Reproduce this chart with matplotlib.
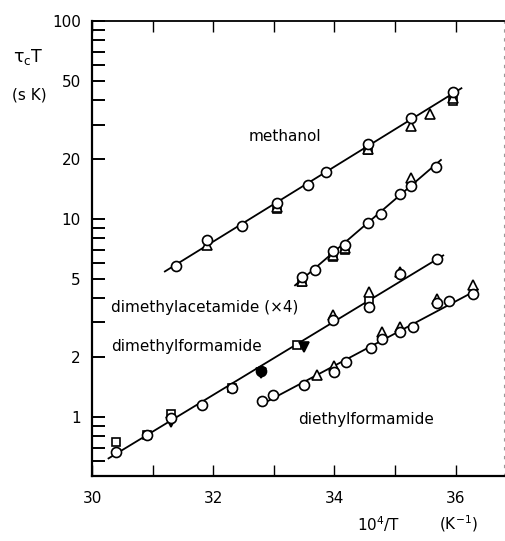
import matplotlib
matplotlib.use("Agg")
import matplotlib.pyplot as plt
from matplotlib.ticker import FixedLocator, NullFormatter, FixedFormatter

plt.rcParams['font.family'] = ['DejaVu Sans']
plt.rcParams['mathtext.fontset'] = 'dejavusans'

# ---- data (x = 10^4/T in K^-1, y = tau_c*T in s K) ----
# methanol
meoh_circ_x = [31.38, 31.89, 32.47, 33.06, 33.57, 33.87, 34.55, 35.27, 35.96]
meoh_circ_y = [5.79, 7.83, 9.25, 12.0, 14.85, 17.2, 23.9, 32.3, 43.6]
meoh_tri_x = [31.89, 33.06, 34.55, 35.27, 35.58, 35.96]
meoh_tri_y = [7.4, 11.5, 22.6, 29.5, 33.9, 40.6]
meoh_sq_x = [33.06, 34.55, 35.96]
meoh_sq_y = [11.2, 22.2, 39.6]
meoh_fit_x = [31.19, 36.11]
meoh_fit_y = [5.40, 46.0]

# dimethylacetamide (x4)
dma_circ_x = [33.47, 33.68, 33.98, 34.18, 34.56, 34.77, 35.08, 35.27, 35.67]
dma_circ_y = [5.08, 5.53, 6.89, 7.39, 9.55, 10.6, 13.4, 14.7, 18.2]
dma_tri_x = [33.47, 33.98, 34.18, 35.27]
dma_tri_y = [4.85, 6.6, 7.1, 16.1]
dma_sq_x = [33.47, 33.98, 34.18]
dma_sq_y = [4.78, 6.45, 6.97]
dma_fit_x = [33.34, 35.77]
dma_fit_y = [4.59, 20.0]

# dimethylformamide
dmf_circ_x = [30.39, 30.90, 31.30, 31.82, 32.31, 33.98, 34.58, 35.09, 35.70]
dmf_circ_y = [0.668, 0.811, 0.985, 1.15, 1.40, 3.08, 3.61, 5.26, 6.26]
dmf_fill_x = [32.79]
dmf_fill_y = [1.70]
dmf_sq_x = [30.39, 30.90, 31.30, 32.31, 33.38, 34.58]
dmf_sq_y = [0.748, 0.81, 1.03, 1.40, 2.32, 3.90]
dmf_tri_x = [33.98, 34.58, 35.09]
dmf_tri_y = [3.27, 4.29, 5.4]
dmf_dtri_x = [31.30, 32.79, 33.50]
dmf_dtri_y = [0.94, 1.66, 2.25]
dmf_fit_x = [30.26, 35.81]
dmf_fit_y = [0.614, 6.58]

# diethylformamide
def_circ_x = [32.80, 32.99, 33.50, 34.00, 34.19, 34.60, 34.79, 35.09, 35.29, 35.70, 35.89, 36.29]
def_circ_y = [1.20, 1.29, 1.45, 1.69, 1.90, 2.24, 2.48, 2.67, 2.84, 3.78, 3.87, 4.18]
def_tri_x = [33.71, 34.00, 34.79, 35.09, 35.70, 36.29]
def_tri_y = [1.63, 1.81, 2.67, 2.84, 3.93, 4.64]
def_fit_x = [32.76, 36.38]
def_fit_y = [1.14, 4.42]

y_major = [1, 2, 5, 10, 20, 50, 100]
y_minor = [0.6, 0.7, 0.8, 0.9, 3, 4, 6, 7, 8, 9, 30, 40, 60, 70, 80, 90]
x_major = [30, 31, 32, 33, 34, 35, 36]
x_labels = ['30', '', '32', '', '34', '', '36']

# ---- figure ----
fig = plt.figure(figsize=(5.05, 5.41), dpi=100)
ax = fig.add_axes([92 / 505, 1 - 476 / 541, (504 - 92) / 505, (476 - 21) / 541])
ax.set_yscale('log')
ax.set_xlim(30, 36.8)
ax.set_ylim(0.503, 100)

lw = 1.3
mew = 1.2
for fx, fy in [(meoh_fit_x, meoh_fit_y), (dma_fit_x, dma_fit_y),
               (dmf_fit_x, dmf_fit_y), (def_fit_x, def_fit_y)]:
    ax.plot(fx, fy, color='black', lw=lw, zorder=2, solid_capstyle='butt')

def pts(x, y, marker, ms, face='white', z=3):
    ax.plot(x, y, linestyle='none', marker=marker, ms=ms, mfc=face,
            mec='black', mew=mew, zorder=z)

# triangles / squares first, circles on top
pts(meoh_sq_x, meoh_sq_y, 's', 5.5)
pts(meoh_tri_x, meoh_tri_y, '^', 6.5)
pts(meoh_circ_x, meoh_circ_y, 'o', 7.2, z=4)

pts(dma_sq_x, dma_sq_y, 's', 5.5)
pts(dma_tri_x, dma_tri_y, '^', 6.5)
pts(dma_circ_x, dma_circ_y, 'o', 7.2, z=4)

pts(dmf_sq_x, dmf_sq_y, 's', 6.0)
pts(dmf_tri_x, dmf_tri_y, '^', 6.5)
pts(dmf_dtri_x, dmf_dtri_y, 'v', 6.5, face='black')
pts(dmf_circ_x, dmf_circ_y, 'o', 7.2, z=4)
pts(dmf_fill_x, dmf_fill_y, 'o', 7.2, face='black', z=4)

pts(def_tri_x, def_tri_y, '^', 6.5)
pts(def_circ_x, def_circ_y, 'o', 7.2, z=4)

# ---- axes styling ----
ax.yaxis.set_major_locator(FixedLocator(y_major))
ax.yaxis.set_major_formatter(FixedFormatter([str(v) for v in y_major]))
ax.yaxis.set_minor_locator(FixedLocator(y_minor))
ax.yaxis.set_minor_formatter(NullFormatter())
ax.xaxis.set_major_locator(FixedLocator(x_major))
ax.xaxis.set_major_formatter(FixedFormatter(x_labels))
ax.xaxis.set_minor_locator(FixedLocator([]))

ax.tick_params(axis='y', which='both', direction='in', length=9, width=1.4,
               labelsize=11, pad=8, left=True, right=False)
ax.tick_params(axis='x', which='major', direction='in', length=8, width=1.0,
               labelsize=11, pad=11, top=True, bottom=True)

for s in ['left', 'bottom']:
    ax.spines[s].set_linewidth(1.6)
ax.spines['top'].set_linewidth(1.3)
ax.spines['right'].set_linewidth(0.8)
ax.spines['right'].set_color('#999999')
ax.spines['right'].set_linestyle((0, (2, 6)))

# ---- annotations ----
fs = 11
ax.text(32.59, 26.2, 'methanol', fontsize=fs, va='center', ha='left')
ax.text(30.32, 3.55, 'dimethylacetamide (×4)', fontsize=fs, va='center', ha='left')
ax.text(30.32, 2.28, 'dimethylformamide', fontsize=fs, va='center', ha='left')
ax.text(33.40, 0.966, 'diethylformamide', fontsize=fs, va='center', ha='left')

fig.text(13 / 505, 1 - 57 / 541, 'τ$_\\mathrm{c}$T', fontsize=12.5, va='center', ha='left')
fig.text(12 / 505, 1 - 95 / 541, '(s K)', fontsize=fs, va='center', ha='left')
fig.text(357 / 505, 1 - 524 / 541, '10$^{\\mathrm{4}}$/T', fontsize=fs,
         va='center', ha='left')
fig.text(439 / 505, 1 - 524 / 541, '(K$^{\\mathrm{-1}}$)', fontsize=fs,
         va='center', ha='left')

fig.savefig('out.png', dpi=100)
